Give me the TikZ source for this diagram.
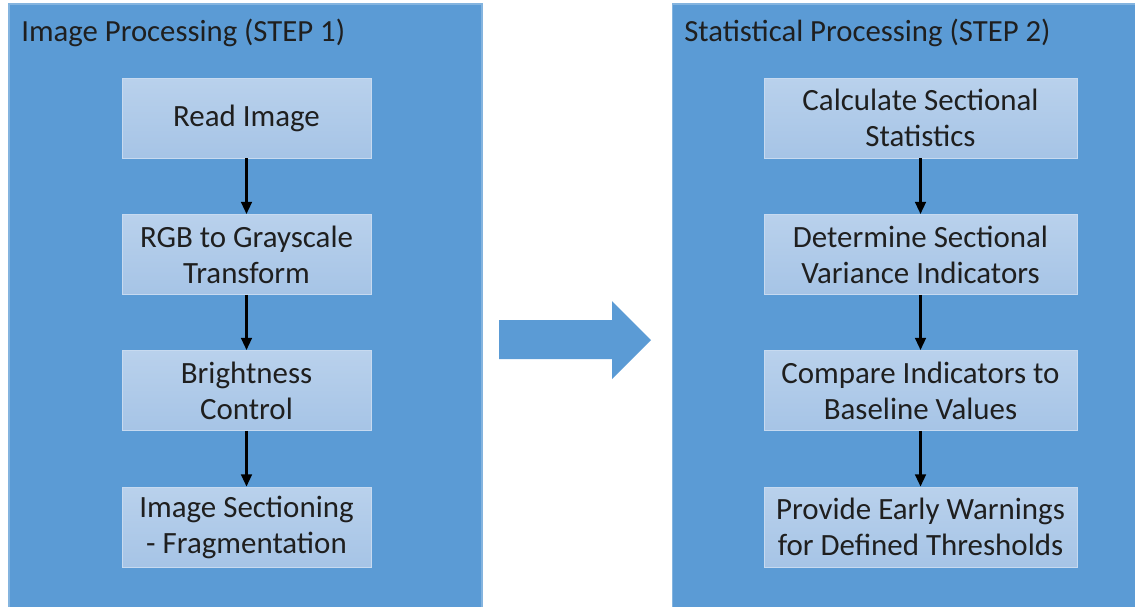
\documentclass[tikz,border=0pt]{standalone}
\usepackage{fontspec}
\setmainfont{Carlito}
\usetikzlibrary{arrows.meta}

\definecolor{panelblue}{HTML}{5B9BD5}
\definecolor{boxtop}{HTML}{B9D1EC}
\definecolor{boxbot}{HTML}{A6C4E6}

\begin{document}
\begin{tikzpicture}[
	x=0.02cm, y=-0.02cm,
	>={Triangle[length=7pt,width=6pt]},
	panel/.style ={fill=panelblue, draw=panelblue!75!white, line width=0.8pt, inner sep=0pt},
	paneltitle/.style ={anchor=base west, inner sep=0pt, text=black!88, font=\fontsize{17.5}{21}\selectfont},
	stepbox/.style ={top color=boxtop, bottom color=boxbot, draw=boxtop!80!white, line width=0.4pt,
		minimum height=1.6cm, align=center, inner sep=0pt, text=black!88,
		font=\fontsize{17.6}{20.5}\selectfont},
	leftbox/.style ={stepbox, minimum width=4.98cm},
	rightbox/.style ={stepbox, minimum width=6.26cm},
	flow/.style ={->, line width=1.6pt}]

	\useasboundingbox (0,0) rectangle (1135,606);

	% the two panels
	\node[panel, minimum width=9.46cm, minimum height=12.1cm] (imgpanel) at (245.5,306.5) {};
	\node[panel, minimum width=9.30cm, minimum height=12.1cm] (statpanel) at (905,306.5) {};

	\node[paneltitle] (imgtitle) at (21,41) {Image Processing (STEP 1)};
	\node[paneltitle] (stattitle) at (684,41) {Statistical Processing (STEP 2)};

	% step 1
	\node[leftbox] (read) at (246.5,118) {Read Image};
	\node[leftbox] (gray) at (246.5,254.5) {RGB to Grayscale\\Transform};
	\node[leftbox] (bright) at (246.5,390.5) {Brightness\\Control};
	\node[leftbox] (section) at (246.5,527) {Image Sectioning\\- Fragmentation};

	\draw[flow] (read) -- (gray);
	\draw[flow] (gray) -- (bright);
	\draw[flow] (bright) -- (section);

	% step 2
	\node[rightbox] (calc) at (920.5,118) {Calculate Sectional\\Statistics};
	\node[rightbox] (variance) at (920.5,254.5) {Determine Sectional\\Variance Indicators};
	\node[rightbox] (compare) at (920.5,390.5) {Compare Indicators to\\Baseline Values};
	\node[rightbox] (warn) at (920.5,527) {Provide Early Warnings\\for Defined Thresholds};

	\draw[flow] (calc) -- (variance);
	\draw[flow] (variance) -- (compare);
	\draw[flow] (compare) -- (warn);

	% big arrow between the steps
	\fill[panelblue] (499,320) -- (612,320) -- (612,301) -- (651,340)
		-- (612,379) -- (612,359) -- (499,359) -- cycle;

\end{tikzpicture}
\end{document}
